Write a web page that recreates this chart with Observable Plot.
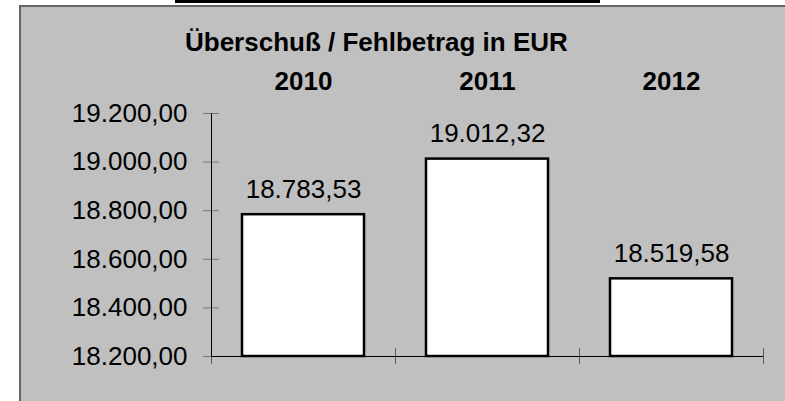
<!DOCTYPE html>
<html>
<head>
<meta charset="utf-8">
<script src="https://cdn.jsdelivr.net/npm/d3@7"></script>
<script src="https://cdn.jsdelivr.net/npm/@observablehq/plot@0.6"></script>
<style>
  html, body { margin: 0; padding: 0; background: #fff; }
  body { width: 785px; height: 401px; position: relative; overflow: hidden;
         font-family: "Liberation Sans", Arial, sans-serif; }
  #topbar { position: absolute; left: 175px; top: 0; width: 425px; height: 3px; background: #000; }
  #panel { position: absolute; left: 19px; top: 5px; right: -10px; bottom: -10px;
           background: #c0c0c0; border-left: 2px solid #666; border-top: 2px solid #666; }
  #title { position: absolute; left: 185px; top: 29px; font-size: 26px; line-height: 26px;
           font-weight: bold; white-space: nowrap; color: #000; }
  #chart { position: absolute; left: 0; top: 0; }
</style>
</head>
<body>
<div id="topbar"></div>
<div id="panel"></div>
<div id="title">Überschuß / Fehlbetrag in EUR</div>
<div id="chart"></div>
<script>
const years = ["2010", "2011", "2012"];
const values = [18783.53, 19012.32, 18519.58];
const yTicks = [18200, 18400, 18600, 18800, 19000, 19200];

const de = d3.formatLocale({decimal: ",", thousands: ".", grouping: [3], currency: ["", " €"]});
const fmt = de.format(",.2f");

const data = years.map((year, i) => ({year, i, value: values[i]}));
const base = yTicks[0];

const chart = Plot.plot({
  width: 785,
  height: 401,
  marginLeft: 211,
  marginRight: 22,
  marginTop: 113,
  marginBottom: 45,
  style: {background: "transparent", fontFamily: "'Liberation Sans', Arial, sans-serif", color: "#000", overflow: "visible"},
  x: {type: "linear", domain: [0, years.length], axis: null},
  y: {domain: [yTicks[0], yTicks[yTicks.length - 1]], axis: null},
  marks: [
    // y tick marks crossing the axis
    Plot.axisY({ticks: yTicks, tickSize: 16, dx: 8, tickFormat: () => "", stroke: "#777", label: null}),
    // y tick labels
    Plot.axisY({ticks: yTicks, tickSize: 0, tickPadding: 24, tickFormat: fmt, fontSize: 26, label: null}),
    // x boundary ticks
    Plot.axisX({ticks: d3.range(years.length + 1), tickSize: 16, dy: -8, tickFormat: () => "", stroke: "#555", label: null}),
    // year labels on top
    Plot.axisX({anchor: "top", ticks: years.map((_, i) => i + 0.5), tickFormat: v => years[Math.floor(v)],
                tickSize: 0, tickPadding: 24, fontSize: 26, fontWeight: "bold", label: null}),
    // axis lines
    Plot.ruleY([base], {stroke: "#000"}),
    Plot.ruleX([0], {y1: yTicks[0], y2: yTicks[yTicks.length - 1], stroke: "#000"}),
    // bars
    Plot.rect(data, {x1: "i", x2: d => d.i + 1, y1: base, y2: "value",
                     insetLeft: 31, insetRight: 31, fill: "#fff", stroke: "#000", strokeWidth: 2.5}),
    // value labels
    Plot.text(data, {x: d => d.i + 0.5, y: "value", text: d => fmt(d.value), dy: -17,
                     lineAnchor: "bottom", fontSize: 26, fill: "#000"})
  ]
});
document.getElementById("chart").appendChild(chart);
</script>
</body>
</html>
